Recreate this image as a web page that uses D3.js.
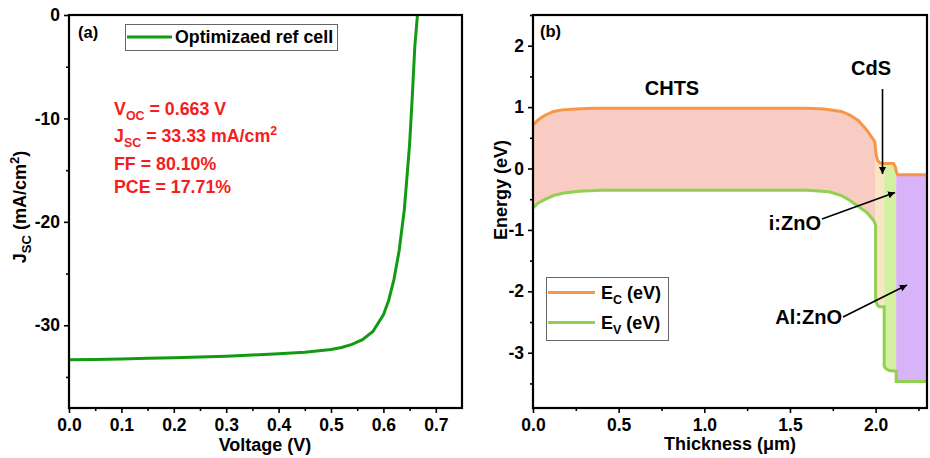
<!DOCTYPE html>
<html>
<head>
<meta charset="utf-8">
<script src="https://cdn.jsdelivr.net/npm/d3@7"></script>
<style>
  body { margin: 0; background: #fff; }
  svg { font-family: "Liberation Sans", Arial, sans-serif; font-weight: bold; }
  .tick text { font-size: 17.5px; font-weight: bold; fill: #000; }
  .tick line { stroke: #000; stroke-width: 1.6; }
  .domain { display: none; }
</style>
</head>
<body>
<div id="chart"></div>
<script>
// (a) J-V curve
const voltage = [0, 0.05, 0.1, 0.15, 0.2, 0.25, 0.3, 0.35, 0.4, 0.45, 0.5, 0.52, 0.54, 0.56, 0.58, 0.6, 0.61, 0.62, 0.63, 0.64, 0.65, 0.655, 0.66, 0.665];
const current = [-33.33, -33.30, -33.27, -33.2, -33.15, -33.08, -33.0, -32.88, -32.75, -32.6, -32.35, -32.15, -31.85, -31.4, -30.6, -29.0, -27.6, -25.6, -22.8, -18.8, -12.5, -8.0, -3.0, 0];
const voltageTicks = [0, 0.1, 0.2, 0.3, 0.4, 0.5, 0.6, 0.7];
const currentTicks = [0, -10, -20, -30];

// (b) band diagram
const ecThick = [0, 0.03, 0.06, 0.08, 0.12, 0.17, 0.25, 0.35, 1.6, 1.7, 1.75, 1.8, 1.85, 1.9, 1.95, 1.98, 1.995, 2.0, 2.005, 2.012, 2.025, 2.04, 2.105, 2.115, 2.122, 2.13, 2.3];
const ecEnergy = [0.71, 0.79, 0.85, 0.88, 0.93, 0.955, 0.97, 0.98, 0.98, 0.97, 0.95, 0.93, 0.87, 0.78, 0.62, 0.50, 0.44, 0.30, 0.20, 0.13, 0.09, 0.08, 0.08, 0.03, -0.06, -0.1, -0.1];
const evThick = [0, 0.03, 0.08, 0.12, 0.18, 0.27, 0.4, 1.6, 1.73, 1.8, 1.85, 1.9, 1.95, 1.99, 2.0, 2.0, 2.01, 2.02, 2.05, 2.05, 2.06, 2.08, 2.12, 2.12, 2.3];
const evEnergy = [-0.64, -0.56, -0.49, -0.44, -0.40, -0.37, -0.355, -0.355, -0.38, -0.44, -0.52, -0.62, -0.72, -0.85, -0.93, -2.15, -2.22, -2.25, -2.25, -3.22, -3.26, -3.29, -3.30, -3.47, -3.47];
const layers = ['CHTS', 'CdS', 'i:ZnO', 'Al:ZnO'];
const layerStart = [0, 2.0, 2.05, 2.12];
const layerEnd = [2.0, 2.05, 2.12, 2.3];
const layerColors = ['#f8cbc3', '#f9e4c4', '#d3f0a0', '#d9b3f9'];
const thickTicks = [0, 0.5, 1.0, 1.5, 2.0];
const energyTicks = [2, 1, 0, -1, -2, -3];

const w = 930, h = 458;
const svg = d3.select('#chart').append('svg').attr('width', w).attr('height', h);
const intFmt = d => String(d);   // plain hyphen for negatives

// arrow marker
svg.append('defs').append('marker')
    .attr('id', 'arrow')
    .attr('viewBox', '0 0 10 10')
    .attr('refX', 10).attr('refY', 5)
    .attr('markerWidth', 7).attr('markerHeight', 7)
    .attr('markerUnits', 'userSpaceOnUse')
    .attr('orient', 'auto')
    .append('path').attr('d', 'M0,0 L10,5 L0,10 Z').attr('fill', '#000');

// helper for axes with minor ticks
function drawAxes(g, x, y, xTicks, yTicks, xMinor, yMinor, xFmt, yFmt) {
    const [x0, x1] = x.range();
    const [y0, y1] = y.range();
    g.append('g').attr('transform', `translate(0,${y0})`)
        .call(d3.axisBottom(x).tickValues(xMinor).tickSize(3).tickFormat(''));
    g.append('g').attr('transform', `translate(${x0},0)`)
        .call(d3.axisLeft(y).tickValues(yMinor).tickSize(3).tickFormat(''));
    g.append('g').attr('transform', `translate(0,${y0})`)
        .call(d3.axisBottom(x).tickValues(xTicks).tickSize(5).tickPadding(6).tickFormat(xFmt));
    g.append('g').attr('transform', `translate(${x0},0)`)
        .call(d3.axisLeft(y).tickValues(yTicks).tickSize(5).tickPadding(4).tickFormat(yFmt));
    g.append('rect')
        .attr('x', x0).attr('y', y1)
        .attr('width', x1 - x0).attr('height', y0 - y1)
        .attr('fill', 'none').attr('stroke', '#000').attr('stroke-width', 2.2);
}

// ---------- panel (a) ----------
const xA = d3.scaleLinear().domain([0, 0.75]).range([69, 462]);
const yA = d3.scaleLinear().domain([-38, 0]).range([408, 15]);
const gA = svg.append('g');

gA.append('path')
    .datum(voltage.map((v, i) => [v, current[i]]))
    .attr('fill', 'none')
    .attr('stroke', '#139a13')
    .attr('stroke-width', 3)
    .attr('d', d3.line().x(d => xA(d[0])).y(d => yA(d[1])));

drawAxes(gA, xA, yA, voltageTicks, currentTicks,
    d3.range(0.05, 0.75, 0.1), [-5, -15, -25, -35],
    d3.format('.1f'), intFmt);

gA.append('text').attr('x', 78).attr('y', 38).attr('font-size', 16.5).text('(a)');

// legend (a)
gA.append('rect').attr('x', 125.5).attr('y', 24.5).attr('width', 212).attr('height', 26)
    .attr('fill', '#fff').attr('stroke', '#666').attr('stroke-width', 1);
gA.append('line').attr('x1', 127).attr('x2', 172).attr('y1', 37).attr('y2', 37)
    .attr('stroke', '#139a13').attr('stroke-width', 3);
gA.append('text').attr('x', 175).attr('y', 43).attr('font-size', 17.8).text('Optimizaed ref cell');

// red parameter text
const red = '#f51d1d';
function subText(g, x, y, parts, size, color) {
    const t = g.append('text').attr('x', x).attr('y', y).attr('font-size', size).attr('fill', color);
    parts.forEach(p => {
        if (p.sub) t.append('tspan').attr('dy', 5).attr('font-size', size * 0.7).text(p.sub);
        else if (p.sup) t.append('tspan').attr('dy', -7).attr('font-size', size * 0.7).text(p.sup);
        else t.append('tspan').attr('dy', p.dy || 0).text(p.t);
    });
    return t;
}
subText(gA, 114, 115, [{ t: 'V' }, { sub: 'OC' }, { t: ' = 0.663 V', dy: -5 }], 17.8, red);
subText(gA, 114, 142, [{ t: 'J' }, { sub: 'SC' }, { t: ' = 33.33 mA/cm', dy: -5 }, { sup: '2' }], 17.8, red);
gA.append('text').attr('x', 114).attr('y', 170).attr('font-size', 17.8).attr('fill', red).text('FF = 80.10%');
gA.append('text').attr('x', 114).attr('y', 193).attr('font-size', 17.8).attr('fill', red).text('PCE = 17.71%');

gA.append('text').attr('x', 265).attr('y', 451).attr('text-anchor', 'middle').attr('font-size', 18).text('Voltage (V)');
const yLabA = gA.append('text').attr('transform', 'translate(26,207) rotate(-90)')
    .attr('text-anchor', 'middle').attr('font-size', 18);
yLabA.append('tspan').text('J');
yLabA.append('tspan').attr('dy', 5).attr('font-size', 13).text('SC');
yLabA.append('tspan').attr('dy', -5).text(' (mA/cm');
yLabA.append('tspan').attr('dy', -7).attr('font-size', 13).text('2');
yLabA.append('tspan').attr('dy', 7).text(')');

// ---------- panel (b) ----------
const xB = d3.scaleLinear().domain([0, 2.3]).range([533, 927]);
const yB = d3.scaleLinear().domain([-3.9, 2.5]).range([408, 15]);
const gB = svg.append('g');

const ecPts = ecThick.map((t, i) => [t, ecEnergy[i]]);
const evPts = evThick.map((t, i) => [t, evEnergy[i]]);
const bandLine = d3.line().x(d => xB(d[0])).y(d => yB(d[1]));
const bandPoly = bandLine(ecPts.concat(evPts.slice().reverse())) + 'Z';

const defs = svg.select('defs');
layers.forEach((name, i) => {
    defs.append('clipPath').attr('id', 'clip' + i)
        .append('rect')
        .attr('x', xB(layerStart[i])).attr('y', 15)
        .attr('width', xB(layerEnd[i]) - xB(layerStart[i])).attr('height', 393);
    gB.append('path').attr('d', bandPoly)
        .attr('fill', layerColors[i])
        .attr('clip-path', `url(#clip${i})`);
});

gB.append('path').datum(ecPts).attr('d', bandLine)
    .attr('fill', 'none').attr('stroke', '#f79646').attr('stroke-width', 3);
gB.append('path').datum(evPts).attr('d', bandLine)
    .attr('fill', 'none').attr('stroke', '#92d050').attr('stroke-width', 3);

drawAxes(gB, xB, yB, thickTicks, energyTicks,
    [0.25, 0.75, 1.25, 1.75, 2.25], [2.5, 1.5, 0.5, -0.5, -1.5, -2.5, -3.5],
    d3.format('.1f'), intFmt);

gB.append('text').attr('x', 540).attr('y', 37).attr('font-size', 16.5).text('(b)');

// layer labels and arrows
gB.append('text').attr('x', 672).attr('y', 95).attr('text-anchor', 'middle').attr('font-size', 20).text('CHTS');
gB.append('text').attr('x', 871).attr('y', 75).attr('text-anchor', 'middle').attr('font-size', 20).text('CdS');
gB.append('line').attr('x1', 882.5).attr('y1', 89).attr('x2', 882.5).attr('y2', 174)
    .attr('stroke', '#000').attr('stroke-width', 1.6).attr('marker-end', 'url(#arrow)');
gB.append('text').attr('x', 821).attr('y', 230).attr('text-anchor', 'end').attr('font-size', 20).text('i:ZnO');
gB.append('line').attr('x1', 822).attr('y1', 219).attr('x2', 895).attr('y2', 192.5)
    .attr('stroke', '#000').attr('stroke-width', 1.6).attr('marker-end', 'url(#arrow)');
gB.append('text').attr('x', 842).attr('y', 324).attr('text-anchor', 'end').attr('font-size', 20).text('Al:ZnO');
gB.append('line').attr('x1', 843).attr('y1', 317).attr('x2', 907).attr('y2', 285)
    .attr('stroke', '#000').attr('stroke-width', 1.6).attr('marker-end', 'url(#arrow)');

// legend (b)
gB.append('rect').attr('x', 546.5).attr('y', 277.5).attr('width', 122).attr('height', 63)
    .attr('fill', '#fff').attr('stroke', '#666').attr('stroke-width', 1);
const legB = [['C', '#f79646', 292.5], ['V', '#92d050', 322.5]];
legB.forEach(([s, c, ly]) => {
    gB.append('line').attr('x1', 548).attr('x2', 595).attr('y1', ly).attr('y2', ly)
        .attr('stroke', c).attr('stroke-width', 3);
    const t = gB.append('text').attr('x', 601).attr('y', ly + 6).attr('font-size', 18);
    t.append('tspan').text('E');
    t.append('tspan').attr('dy', 5).attr('font-size', 12.5).text(s);
    t.append('tspan').attr('dy', -5).text(' (eV)');
});

gB.append('text').attr('x', 730).attr('y', 450).attr('text-anchor', 'middle').attr('font-size', 18).text('Thickness (μm)');
gB.append('text').attr('transform', 'translate(507,190) rotate(-90)')
    .attr('text-anchor', 'middle').attr('font-size', 18).text('Energy (eV)');
</script>
</body>
</html>
